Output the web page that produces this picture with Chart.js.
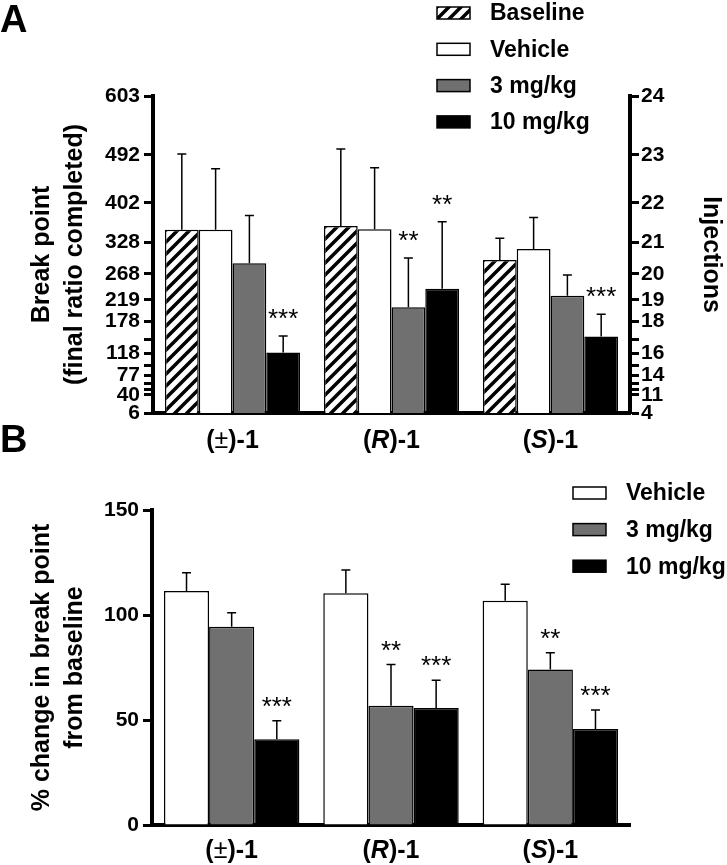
<!DOCTYPE html>
<html lang="en">
<head>
<meta charset="utf-8">
<title>Break point (A) and % change from baseline (B)</title>
<script src="https://cdn.jsdelivr.net/npm/chart.js@4"></script>
<style>
    html, body { margin: 0; padding: 0; background: #fff; }
    #wrap { position: relative; width: 727px; height: 865px; }
    #chartA { position: absolute; left: 0; top: 0; }
    #chartB { position: absolute; left: 0; top: 420px; }
</style>
</head>
<body>
<div id="wrap">
    <canvas id="chartA" width="727" height="460"></canvas>
    <canvas id="chartB" width="727" height="445"></canvas>
</div>
<script>
const categories = ['(±)-1', '(R)-1', '(S)-1'];

// Panel A: break point (final ratio completed), mean + SEM
const bpBaseline = [351, 358, 294];
const bpBaselineSem = [143, 145, 41];
const bpVehicle = [351, 352, 315];
const bpVehicleSem = [115, 116, 59];
const bp3mg = [288, 205, 227];
const bp3mgSem = [90, 93, 39];
const bp10mg = [120, 240, 150];
const bp10mgSem = [31, 126, 42];
const starsA = [['', '', ''], ['', '', ''], ['', '**', ''], ['***', '**', '***']];

// progressive ratio schedule: final ratio and matching injection count
const ratioTicks = [6, 40, 50, 62, 77, 95, 118, 145, 178, 219, 268, 328, 402, 492, 603];
const injectionTicks = [4, 11, 12, 13, 14, 15, 16, 17, 18, 19, 20, 21, 22, 23, 24];
const ratioLabels = [6, 40, 77, 118, 178, 219, 268, 328, 402, 492, 603];
const injectionLabels = [4, 11, 14, 16, 18, 19, 20, 21, 22, 23, 24];

// Panel B: % change in break point from baseline, mean + SEM
const pctVehicle = [111.4, 110.3, 106.8];
const pctVehicleSem = [8.7, 11.1, 7.8];
const pct3mg = [94.4, 56.8, 74.1];
const pct3mgSem = [6.7, 19.6, 7.9];
const pct10mg = [40.8, 55.7, 45.7];
const pct10mgSem = [8.9, 13.2, 9.1];
const starsB = [['', '', ''], ['', '**', '**'], ['***', '***', '***']];
const pctTicks = [0, 50, 100, 150];

const FONT = '"Liberation Sans", Arial, Helvetica, sans-serif';
const GREY = '#707070';

// diagonal hatch for the baseline bars
function makeHatch() {
    const c = document.createElement('canvas');
    c.width = 12; c.height = 12;
    const g = c.getContext('2d');
    g.fillStyle = '#fff';
    g.fillRect(0, 0, 12, 12);
    g.strokeStyle = '#000';
    g.lineWidth = 3.5;
    g.beginPath();
    g.moveTo(-2, 14); g.lineTo(14, -2);
    g.moveTo(-8, 8); g.lineTo(8, -8);
    g.moveTo(4, 20); g.lineTo(20, 4);
    g.stroke();
    return g.createPattern(c, 'repeat');
}
const hatch = makeHatch();

function drawCategory(ctx, text, cx, cy) {
    const m = text.match(/^\((.)\)(.*)$/);
    const parts = [
        ['(', 'bold'],
        [m[1], m[1] === '±' ? 'normal' : 'italic bold'],
        [')' + m[2], 'bold']
    ];
    let total = 0;
    parts.forEach(p => { ctx.font = p[1] + ' 25px ' + FONT; p.push(ctx.measureText(p[0]).width); total += p[2]; });
    let x = cx - total / 2;
    ctx.textAlign = 'left';
    ctx.textBaseline = 'middle';
    parts.forEach(p => { ctx.font = p[1] + ' 25px ' + FONT; ctx.fillText(p[0], x, cy); x += p[2]; });
}

const decor = {
    id: 'decor',
    afterDatasetsDraw(chart, args, opts) {
        const ctx = chart.ctx;
        const ys = chart.scales.y;
        ctx.save();
        ctx.strokeStyle = '#000';
        ctx.fillStyle = '#000';
        ctx.lineWidth = 1.5;
        chart.data.datasets.forEach((ds, di) => {
            chart.getDatasetMeta(di).data.forEach((bar, i) => {
                const top = ys.getPixelForValue(ds.data[i] + ds.sem[i]);
                ctx.beginPath();
                ctx.moveTo(bar.x, bar.y);
                ctx.lineTo(bar.x, top);
                ctx.moveTo(bar.x - 4.5, top);
                ctx.lineTo(bar.x + 4.5, top);
                ctx.stroke();
                if (ds.stars[i]) {
                    ctx.font = '26px ' + FONT;
                    ctx.textAlign = 'center';
                    ctx.textBaseline = 'alphabetic';
                    ctx.fillText(ds.stars[i], bar.x, top - opts.starGap + 15);
                }
            });
        });
        ctx.restore();
    },
    afterDraw(chart, args, opts) {
        const ctx = chart.ctx;
        ctx.save();
        ctx.fillStyle = '#000';
        // panel letter
        ctx.font = 'bold 38px ' + FONT;
        ctx.textAlign = 'left';
        ctx.textBaseline = 'alphabetic';
        ctx.fillText(opts.letter, 0, opts.letterY);
        // category labels
        const xs = chart.scales.x;
        chart.data.labels.forEach((lab, i) => drawCategory(ctx, lab, xs.getPixelForValue(i), opts.labelY));
        // legend
        chart.data.datasets.forEach((ds, i) => {
            const cy = opts.legendY + i * opts.legendStep;
            ctx.fillStyle = ds.backgroundColor;
            ctx.fillRect(opts.legendX, cy - 6, 33, 12);
            ctx.strokeStyle = '#000';
            ctx.lineWidth = 1.5;
            ctx.strokeRect(opts.legendX, cy - 6, 33, 12);
            ctx.fillStyle = '#000';
            ctx.font = 'bold 23px ' + FONT;
            ctx.textAlign = 'left';
            ctx.textBaseline = 'middle';
            ctx.fillText(ds.label, opts.legendX + 53, cy + 1);
        });
        ctx.restore();
    }
};

const tickFont = { family: FONT, size: 21, weight: 'bold' };
const titleFont = { family: FONT, size: 25, weight: 'bold', lineHeight: 1.32 };
const axisGrid = { display: true, drawOnChartArea: false, drawTicks: true, tickLength: 9, tickWidth: 3, tickColor: '#000' };
const axisBorder = { display: true, color: '#000', width: 4 };

function bar(label, data, sem, stars, fill) {
    return { label, data, sem, stars, backgroundColor: fill, borderColor: '#000', borderWidth: 1.5,
             barPercentage: 1, categoryPercentage: 0.85 };
}

function xAxis(h) {
    return { type: 'category', offset: true, grid: { display: false }, border: axisBorder,
             ticks: { display: false }, afterFit: s => { s.height = h; } };
}

new Chart(document.getElementById('chartA'), {
    type: 'bar',
    data: {
        labels: categories,
        datasets: [
            bar('Baseline', bpBaseline, bpBaselineSem, starsA[0], hatch),
            bar('Vehicle', bpVehicle, bpVehicleSem, starsA[1], '#fff'),
            bar('3 mg/kg', bp3mg, bp3mgSem, starsA[2], GREY),
            bar('10 mg/kg', bp10mg, bp10mgSem, starsA[3], '#000')
        ]
    },
    options: {
        responsive: false,
        animation: false,
        events: [],
        layout: { padding: { top: 96, left: 0, right: 0, bottom: 0 } },
        plugins: {
            legend: { display: false },
            tooltip: { enabled: false },
            decor: { letter: 'A', letterY: 32, labelY: 441, legendX: 437, legendY: 13, legendStep: 36.3, starGap: 24 }
        },
        scales: {
            x: xAxis(47),
            y: {
                type: 'linear', position: 'left', min: 6, max: 603,
                afterBuildTicks: s => { s.ticks = ratioTicks.map(v => ({ value: v })); },
                afterFit: s => { s.width = 153; },
                ticks: { autoSkip: false, color: '#000', font: tickFont, padding: 4,
                         callback: v => ratioLabels.includes(v) ? String(v) : '' },
                grid: axisGrid,
                border: axisBorder,
                title: { display: true, text: ['Break point', '(final ratio completed)'], color: '#000',
                         font: titleFont, padding: { top: 26, bottom: 0 } }
            },
            y2: {
                type: 'linear', position: 'right', min: 6, max: 603,
                afterBuildTicks: s => { s.ticks = ratioTicks.map(v => ({ value: v })); },
                afterFit: s => { s.width = 97; },
                ticks: { autoSkip: false, color: '#000', font: tickFont, padding: 2,
                         callback: v => {
                             const inj = injectionTicks[ratioTicks.indexOf(v)];
                             return injectionLabels.includes(inj) ? String(inj) : '';
                         } },
                grid: axisGrid,
                border: axisBorder,
                title: { display: true, text: 'Injections', color: '#000', font: titleFont, padding: { top: 0, bottom: 0 } }
            }
        }
    },
    plugins: [decor]
});

new Chart(document.getElementById('chartB'), {
    type: 'bar',
    data: {
        labels: categories,
        datasets: [
            bar('Vehicle', pctVehicle, pctVehicleSem, starsB[0], '#fff'),
            bar('3 mg/kg', pct3mg, pct3mgSem, starsB[1], GREY),
            bar('10 mg/kg', pct10mg, pct10mgSem, starsB[2], '#000')
        ]
    },
    options: {
        responsive: false,
        animation: false,
        events: [],
        layout: { padding: { top: 90, left: 0, right: 97, bottom: 0 } },
        plugins: {
            legend: { display: false },
            tooltip: { enabled: false },
            decor: { letter: 'B', letterY: 32, labelY: 431, legendX: 573, legendY: 73, legendStep: 36.6, starGap: 21 }
        },
        scales: {
            x: xAxis(40),
            y: {
                type: 'linear', position: 'left', min: 0, max: 150,
                afterBuildTicks: s => { s.ticks = pctTicks.map(v => ({ value: v })); },
                afterFit: s => { s.width = 152; },
                ticks: { autoSkip: false, color: '#000', font: tickFont, padding: 4 },
                grid: axisGrid,
                border: axisBorder,
                title: { display: true, text: ['% change in break point', 'from baseline'], color: '#000',
                         font: titleFont, padding: { top: 26, bottom: 0 } }
            }
        }
    },
    plugins: [decor]
});
</script>
</body>
</html>
